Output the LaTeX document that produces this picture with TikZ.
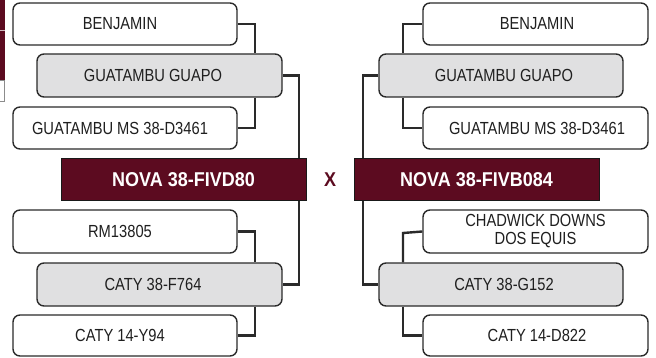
\documentclass[tikz,border=0pt]{standalone}
\usepackage{fontspec}
\setmainfont{Liberation Sans}[FakeStretch=0.84, BoldFeatures={FakeStretch=0.9}]
\definecolor{wine}{HTML}{5C0B20}
\definecolor{boxgray}{HTML}{E0E0E1}
\definecolor{edge}{HTML}{2A2A2A}
\tikzset{
  px/.style={x=1pt,y=-1pt},
  pbox/.style={draw=edge, line width=1.4pt, rounded corners=7pt, fill=white,
    inner sep=0pt, font=\fontsize{17.5}{18}\selectfont, text=black!88},
  gbox/.style={pbox, fill=boxgray},
  tshift/.style={execute at begin node={\hspace*{#1}}},
  mainbox/.style={draw=black!90, line width=1pt, fill=wine, inner sep=0pt,
    font=\fontsize{20}{22}\selectfont\bfseries, text=white},
  conn/.style={draw=edge, line width=2.4pt},
}
\begin{document}
\begin{tikzpicture}[px]
\useasboundingbox (0,0) rectangle (656,358);
% cropped fragment at the top-left edge
\fill[wine] (-2,-2) rectangle (4.5,80);
\draw[white!70!wine, line width=0.6pt] (0,30) -- (4.5,30);
\draw[fill=white, draw=black!45, line width=0.8pt] (-2,80) rectangle (4.5,101);

% left side
\node[pbox, tshift=-10pt, minimum width=224pt, minimum height=42pt] (lb) at (125,24) {BENJAMIN};
\node[gbox, tshift=-13pt, minimum width=245pt, minimum height=43pt] (lg) at (159.5,75.5) {GUATAMBU GUAPO};
\node[pbox, tshift=-10pt, minimum width=224pt, minimum height=42pt] (lm) at (125,128) {GUATAMBU MS 38-D3461};
\node[mainbox, minimum width=245pt, minimum height=42pt] (ln) at (183.5,180) {NOVA 38-FIVD80};
\node[pbox, tshift=-10pt, minimum width=224pt, minimum height=43pt] (lr) at (125,231.5) {RM13805};
\node[gbox, tshift=-13pt, minimum width=245pt, minimum height=43pt] (lc) at (159.5,284.5) {CATY 38-F764};
\node[pbox, tshift=-10pt, minimum width=224pt, minimum height=41pt] (ly) at (125,335.5) {CATY 14-Y94};

% right side
\node[pbox, tshift=3pt, minimum width=225pt, minimum height=42pt] (rb) at (535.5,24) {BENJAMIN};
\node[gbox, tshift=6pt, minimum width=244pt, minimum height=43pt] (rg) at (501,75.5) {GUATAMBU GUAPO};
\node[pbox, tshift=3pt, minimum width=225pt, minimum height=42pt] (rm) at (535.5,128) {GUATAMBU MS 38-D3461};
\node[mainbox, minimum width=245pt, minimum height=42pt] (rn) at (476.5,180) {NOVA 38-FIVB084};
\node[pbox, align=center, minimum width=225pt, minimum height=43pt] (rd) at (535.5,231.5) {CHADWICK DOWNS\\DOS EQUIS};
\node[gbox, tshift=6pt, minimum width=244pt, minimum height=43pt] (rc) at (501,284.5) {CATY 38-G152};
\node[pbox, tshift=3pt, minimum width=225pt, minimum height=41pt] (re) at (535.5,335.5) {CATY 14-D822};

\node[font=\fontsize{20}{22}\selectfont\bfseries, text=wine] (x) at (330,180) {X};

% left connectors
\coordinate (ca) at (255,24);
\coordinate (cb) at (299,75.5);
\coordinate (cc) at (255,231.5);
\coordinate (cd) at (299,284.5);
\draw[conn] (lb.east) -- (ca) -- (ca |- lg.north);
\draw[conn] (ca |- lg.south) |- (lm.east);
\draw[conn] (lg.east) -- (cb) -- (cb |- ln.north);
\draw[conn] (lr.east) -- (cc) -- (cc |- lc.north);
\draw[conn] (cc |- lc.south) |- (ly.east);
\draw[conn] (cb |- ln.south) -- (cd) -- (lc.east);
% right connectors
\coordinate (ra) at (403,24);
\coordinate (rbp) at (363,75.5);
\coordinate (rcp) at (403,233);
\coordinate (rdp) at (363,284.5);
\draw[conn] (rb.west) -- (ra) -- (ra |- rg.north);
\draw[conn] (ra |- rg.south) |- (rm.west);
\draw[conn] (rg.west) -- (rbp) -- (rbp |- rn.north);
\draw[conn] (rd.west) -- (rcp) -- (rcp |- rc.north);
\draw[conn] (rcp |- rc.south) |- (re.west);
\draw[conn] (rbp |- rn.south) -- (rdp) -- (rc.west);
\end{tikzpicture}
\end{document}
